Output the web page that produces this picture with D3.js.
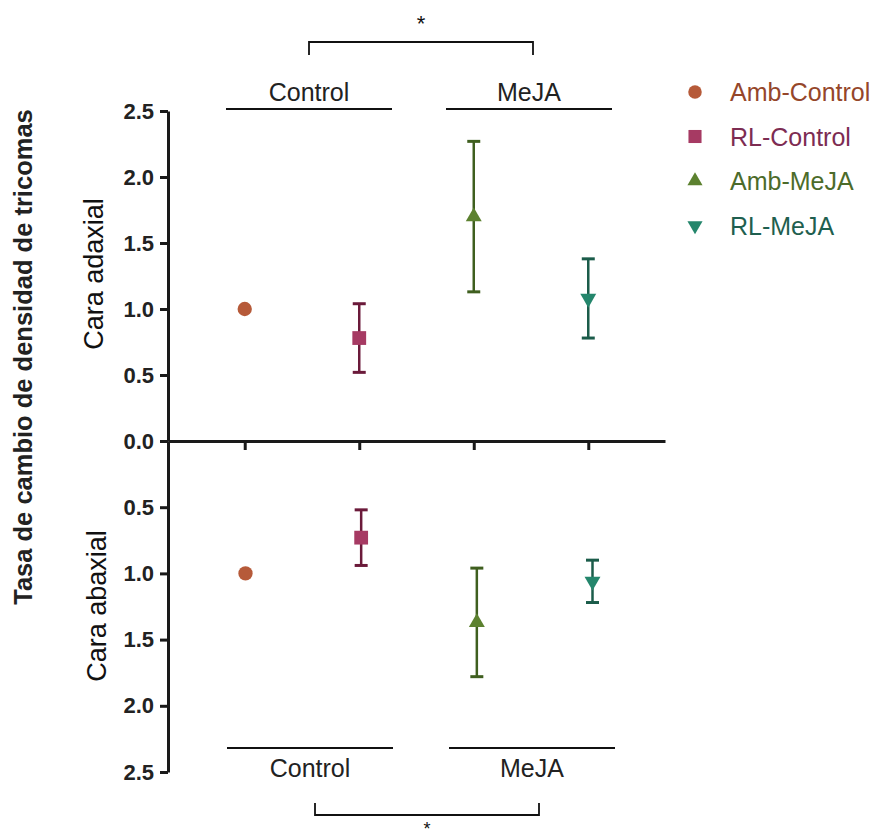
<!DOCTYPE html>
<html><head><meta charset="utf-8">
<script src="https://cdn.jsdelivr.net/npm/d3@7"></script>
<style>body{margin:0;background:#fff} text{font-family:"Liberation Sans",Arial,Helvetica,sans-serif}</style>
</head><body><svg id="c" width="883" height="840"></svg>
<script>
const categories = ["Amb-Control", "RL-Control", "Amb-MeJA", "RL-MeJA"];
const adaxialMean = [1.00, 0.78, 1.70, 1.08];
const adaxialErr  = [0, 0.26, 0.57, 0.30];
const abaxialMean = [1.00, 0.73, 1.37, 1.06];
const abaxialErr  = [0, 0.21, 0.41, 0.16];
const yTicks = [0, 0.5, 1.0, 1.5, 2.0, 2.5];
const groups = ["Control", "MeJA"];
const markerColors = ["#b65a39", "#a63a63", "#5c812f", "#24866c"];
const barColors    = ["#b65a39", "#6b1a3a", "#3f5f1f", "#1b5c4a"];
const legendTextColors = ["#95462a", "#7d2c52", "#4c6b2a", "#1f5f4f"];
const symbolTypes = [d3.symbolCircle, d3.symbolSquare, d3.symbolTriangle, d3.symbolTriangle];
const symbolRot = [0, 0, 0, 180];
const symbolSizes = [160, 190, 110, 110];

const svg = d3.select("#c");
const axisX0 = 168, axisX1 = 665, y0 = 441;

const x = d3.scalePoint().domain(categories).range([axisX0, axisX1]).padding(0.67);
const xBot = d3.scalePoint().domain(categories).range([axisX0, axisX1 + 5]).padding(0.67);
const yTop = d3.scaleLinear().domain([0, 2.5]).range([y0, 111]);
const yBot = d3.scaleLinear().domain([0, 2.5]).range([y0, 772]);

function styleAxis(g) {
  g.selectAll("path.domain").attr("stroke", "#1a1a1a").attr("stroke-width", 3);
  g.selectAll(".tick line").attr("stroke", "#1a1a1a").attr("stroke-width", 3);
  g.selectAll(".tick text").attr("font-size", 22).attr("font-weight", "bold").attr("fill", "#222")
    .attr("font-family", '"Liberation Sans",Arial,sans-serif');
}

// Y axes
const gyT = svg.append("g").attr("transform", `translate(${axisX0},0)`)
  .call(d3.axisLeft(yTop).tickValues(yTicks).tickFormat(d3.format(".1f")).tickSize(8).tickSizeOuter(0).tickPadding(6));
styleAxis(gyT);
const gyB = svg.append("g").attr("transform", `translate(${axisX0},0)`)
  .call(d3.axisLeft(yBot).tickValues(yTicks.slice(1)).tickFormat(d3.format(".1f")).tickSize(8).tickSizeOuter(0).tickPadding(6));
styleAxis(gyB);

// X axis (middle)
const gx = svg.append("g").attr("transform", `translate(0,${y0})`)
  .call(d3.axisBottom(x).tickSize(9).tickSizeOuter(0).tickFormat(""));
styleAxis(gx);

// Points + error bars
function drawPanel(xs, ys, means, errs) {
  const g = svg.append("g");
  categories.forEach((c, i) => {
    const cx = xs(c);
    if (errs[i] > 0) {
      const yt = ys(means[i] + errs[i]), yb = ys(means[i] - errs[i]);
      g.append("line").attr("x1", cx).attr("x2", cx).attr("y1", yt).attr("y2", yb)
        .attr("stroke", barColors[i]).attr("stroke-width", 2.5);
      [yt, yb].forEach(yy => g.append("line").attr("x1", cx - 6.5).attr("x2", cx + 6.5)
        .attr("y1", yy).attr("y2", yy).attr("stroke", barColors[i]).attr("stroke-width", 3));
    }
    g.append("path").attr("d", d3.symbol().type(symbolTypes[i]).size(symbolSizes[i])())
      .attr("transform", `translate(${cx},${ys(means[i])}) rotate(${symbolRot[i]})`)
      .attr("fill", markerColors[i]);
  });
}
drawPanel(x, yTop, adaxialMean, adaxialErr);
drawPanel(xBot, yBot, abaxialMean, abaxialErr);

// Axis titles
svg.append("text").attr("transform", "translate(32,357) rotate(-90)").attr("text-anchor", "middle")
  .attr("font-size", 25.5).attr("font-weight", "bold").attr("fill", "#222")
  .text("Tasa de cambio de densidad de tricomas");
svg.append("text").attr("transform", "translate(103,274) rotate(-90)").attr("text-anchor", "middle")
  .attr("font-size", 27).attr("fill", "#111").text("Cara adaxial");
svg.append("text").attr("transform", "translate(106,606) rotate(-90)").attr("text-anchor", "middle")
  .attr("font-size", 27).attr("fill", "#111").text("Cara abaxial");

// Group labels
const topGroupCenters = [309, 529], botGroupCenters = [310, 532];
const halfW = 83;
groups.forEach((gname, i) => {
  const ct = topGroupCenters[i];
  svg.append("line").attr("x1", ct - halfW).attr("x2", ct + halfW).attr("y1", 109).attr("y2", 109)
    .attr("stroke", "#111").attr("stroke-width", 1.8);
  svg.append("text").attr("x", ct).attr("y", 101).attr("text-anchor", "middle")
    .attr("font-size", 25).attr("fill", "#222").text(gname);
  const cb = botGroupCenters[i];
  svg.append("line").attr("x1", cb - halfW).attr("x2", cb + halfW).attr("y1", 748).attr("y2", 748)
    .attr("stroke", "#111").attr("stroke-width", 1.8);
  svg.append("text").attr("x", cb).attr("y", 777).attr("text-anchor", "middle")
    .attr("font-size", 25).attr("fill", "#222").text(gname);
});

// Significance brackets
function bracket(xa, xb, yLine, yEnd, starY, fs) {
  svg.append("path").attr("d", `M${xa},${yEnd}V${yLine}H${xb}V${yEnd}`)
    .attr("fill", "none").attr("stroke", "#111").attr("stroke-width", 1.8);
  svg.append("text").attr("x", (xa + xb) / 2).attr("y", starY).attr("text-anchor", "middle")
    .attr("font-size", fs).attr("fill", "#111").text("*");
}
bracket(309, 533, 42, 55, 31, 22);
bracket(315, 539, 815, 803, 835, 18);

// Legend
const legend = svg.append("g");
categories.forEach((c, i) => {
  const ly = 92 + i * 44.5;
  legend.append("path").attr("d", d3.symbol().type(symbolTypes[i]).size(symbolSizes[i] * 0.9)())
    .attr("transform", `translate(695,${ly}) rotate(${symbolRot[i]})`).attr("fill", markerColors[i]);
  legend.append("text").attr("x", 730).attr("y", ly + 9).attr("font-size", 25)
    .attr("fill", legendTextColors[i]).text(c);
});
</script></body></html>
